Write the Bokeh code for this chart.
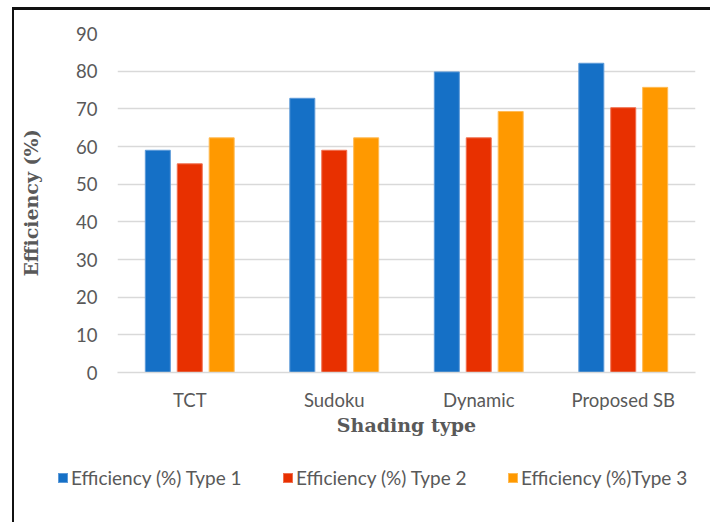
from bokeh.plotting import figure
from bokeh.layouts import column
from bokeh.models import ColumnDataSource, FactorRange, Range1d, Div
from bokeh.transform import dodge
from bokeh.embed import file_html
from bokeh.resources import INLINE

# Data
categories = ["TCT", "Sudoku", "Dynamic", "Proposed SB"]
type1 = [59.0, 72.8, 79.8, 82.1]
type2 = [55.4, 59.0, 62.3, 70.3]
type3 = [62.3, 62.3, 69.3, 75.7]
series_names = ["Efficiency (%) Type 1", "Efficiency (%) Type 2", "Efficiency (%)Type 3"]
y_ticks = [0, 10, 20, 30, 40, 50, 60, 70, 80, 90]

colors = ["#1570c6", "#e83000", "#ff9900"]
edge_colors = ["#5d9ad8", "#f07050", "#ffbb55"]
offsets = [-0.221, 0.0, 0.221]
bar_w = 0.173
text_grey = "#595959"

source = ColumnDataSource(dict(cat=categories, t1=type1, t2=type2, t3=type3))

# Main bar chart
p = figure(width=710, height=450, x_range=FactorRange(*categories),
           y_range=Range1d(0, 90), output_backend="svg", toolbar_location=None,
           min_border_left=117, min_border_right=15, min_border_top=33,
           min_border_bottom=78)
p.outline_line_color = None
p.background_fill_color = "white"
p.border_fill_color = "white"

for key, col, ec, off in zip(["t1", "t2", "t3"], colors, edge_colors, offsets):
    p.vbar(x=dodge("cat", off, range=p.x_range), top=key, width=bar_w,
           source=source, fill_color=col, line_color=ec, line_width=1)

# Axes
p.yaxis.ticker = y_ticks
p.yaxis.axis_line_color = None
p.yaxis.major_tick_line_color = None
p.yaxis.minor_tick_line_color = None
p.yaxis.major_label_standoff = 14
p.yaxis.major_label_text_font = "Lato"
p.yaxis.major_label_text_font_size = "18.5px"
p.yaxis.major_label_text_color = text_grey
p.yaxis.axis_label = "Efficiency (%)"
p.yaxis.axis_label_standoff = 31
p.yaxis.axis_label_text_font = "DejaVu Serif"
p.yaxis.axis_label_text_font_style = "bold"
p.yaxis.axis_label_text_font_size = "19px"
p.yaxis.axis_label_text_color = text_grey

p.xaxis.axis_line_color = "#d9d9d9"
p.xaxis.axis_line_width = 1.5
p.xaxis.major_tick_line_color = None
p.xaxis.minor_tick_line_color = None
p.xaxis.major_label_standoff = 10
p.xaxis.major_label_text_font = "Lato"
p.xaxis.major_label_text_font_size = "18.5px"
p.xaxis.major_label_text_color = text_grey
p.xaxis.axis_label = "Shading type"
p.xaxis.axis_label_standoff = 0
p.xaxis.axis_label_text_font = "DejaVu Serif"
p.xaxis.axis_label_text_font_style = "bold"
p.xaxis.axis_label_text_font_size = "19px"
p.xaxis.axis_label_text_color = text_grey

p.xgrid.grid_line_color = None
p.ygrid.grid_line_color = "#d9d9d9"
p.ygrid.grid_line_width = 1.5

# Legend row under the chart, plus the dark rule along the top and left edges
legend_left = [58, 283, 508]
parts = ['<div style="position:fixed; left:12px; top:7px; width:760px; height:600px; '
         'border-top:3px solid #111111; border-left:2px solid #111111; '
         'z-index:10; pointer-events:none;"></div>']
for name, c, ec, lx in zip(series_names, colors, edge_colors, legend_left):
    parts.append(f'<div style="position:absolute; left:{lx}px; top:23px; width:10px; height:10px; '
                 f'box-sizing:border-box; background:{c}; border:1px solid {ec};"></div>')
    parts.append(f'<div style="position:absolute; left:{lx + 13}px; top:17px; line-height:22px; '
                 f'white-space:nowrap; font-family:Lato; font-size:19px; color:{text_grey};">'
                 f'{name}</div>')
legend_html = ('<div style="position:relative; width:710px; height:72px; background:white;">'
               + "".join(parts) + '</div>')
legend_row = Div(text=legend_html, width=710, height=72, margin=0)

page = column(p, legend_row, spacing=0)

open("out.html", "w").write(file_html(page, INLINE))
